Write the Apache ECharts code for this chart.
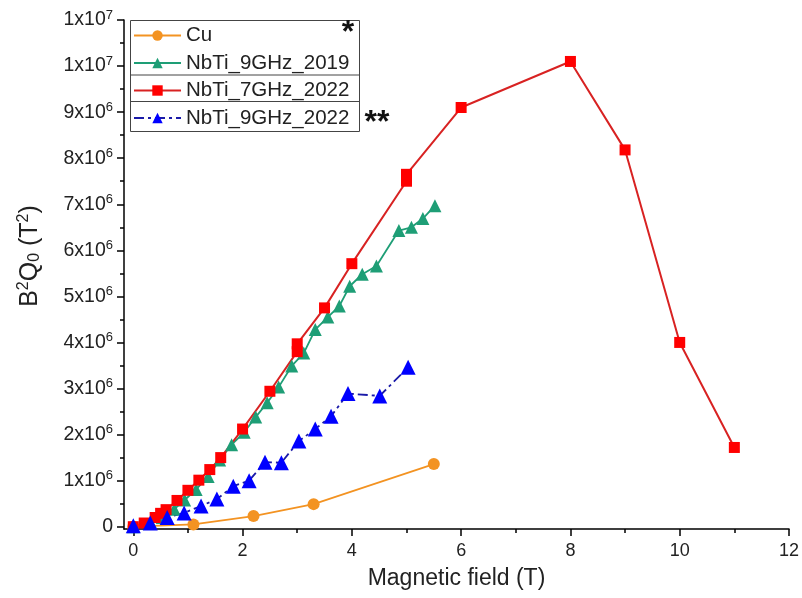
<!DOCTYPE html>
<html>
<head>
<meta charset="utf-8">
<script src="https://cdn.jsdelivr.net/npm/echarts@6/dist/echarts.min.js"></script>
<style>html,body{margin:0;padding:0;background:#fff;}#c{width:802px;height:598px;}</style>
</head>
<body>
<div id="c"></div>
<script>
// ---- data ----
const seriesNames = ['Cu', 'NbTi_9GHz_2019', 'NbTi_7GHz_2022', 'NbTi_9GHz_2022'];
const cuData = [[0, 0], [1.1, 0.05e6], [2.2, 0.23e6], [3.3, 0.49e6], [5.5, 1.36e6]];
const nb9_2019 = [[0, 0], [0.32, 0.08e6], [0.53, 0.2e6], [0.75, 0.38e6], [0.94, 0.58e6], [1.15, 0.81e6], [1.37, 1.09e6],
  [1.58, 1.45e6], [1.8, 1.78e6], [2.03, 2.05e6], [2.24, 2.38e6], [2.45, 2.69e6], [2.66, 3.03e6], [2.9, 3.49e6],
  [3.12, 3.77e6], [3.33, 4.28e6], [3.56, 4.55e6], [3.77, 4.79e6], [3.96, 5.22e6], [4.19, 5.48e6], [4.45, 5.66e6],
  [4.86, 6.43e6], [5.09, 6.5e6], [5.3, 6.69e6], [5.52, 6.97e6]];
const nb7_2022 = [[0, 0], [0.2, 0.08e6], [0.4, 0.2e6], [0.5, 0.29e6], [0.6, 0.37e6], [0.8, 0.57e6], [1.0, 0.79e6],
  [1.2, 1.01e6], [1.4, 1.24e6], [1.6, 1.5e6], [2.0, 2.12e6], [2.5, 2.94e6], [3.0, 3.8e6], [3.0, 3.97e6],
  [3.5, 4.75e6], [4.0, 5.71e6], [5.0, 7.5e6], [5.0, 7.65e6], [6.0, 9.1e6], [8.0, 10.1e6], [9.0, 8.18e6],
  [10.0, 4.0e6], [11.0, 1.72e6]];
const nb9_2022 = [[0, 0.02e6], [0.31, 0.08e6], [0.62, 0.2e6], [0.93, 0.3e6], [1.24, 0.45e6], [1.53, 0.6e6],
  [1.83, 0.88e6], [2.12, 1.0e6], [2.41, 1.4e6], [2.71, 1.39e6], [3.03, 1.86e6], [3.33, 2.12e6], [3.62, 2.4e6],
  [3.93, 2.89e6], [4.51, 2.84e6], [5.03, 3.46e6]];

const xTickValues = [0, 2, 4, 6, 8, 10, 12];
const xTickLabels = ['0', '2', '4', '6', '8', '10', '12'];
const xMinorTicks = [1, 3, 5, 7, 9, 11];
const yTickValues = [0, 1e6, 2e6, 3e6, 4e6, 5e6, 6e6, 7e6, 8e6, 9e6, 1e7, 1.1e7];
const yTickLabels = ['0', '1x10^6', '2x10^6', '3x10^6', '4x10^6', '5x10^6', '6x10^6', '7x10^6', '8x10^6', '9x10^6', '1x10^7', '1x10^7'];
const yMinorTicks = [0.5e6, 1.5e6, 2.5e6, 3.5e6, 4.5e6, 5.5e6, 6.5e6, 7.5e6, 8.5e6, 9.5e6, 10.5e6];

// ---- chart ----
const FONT = '"Liberation Sans", Arial, sans-serif';
const chart = echarts.init(document.getElementById('c'), null, {renderer: 'canvas'});

function lookup(values, labels, v) {
  for (let i = 0; i < values.length; i++) {
    if (Math.abs(values[i] - v) < 1e-6 * Math.max(1, Math.abs(v))) return labels[i];
  }
  return '';
}
function richLabel(s) {
  const p = s.split('^');
  if (p.length < 2) return '{b|' + p[0] + '}';
  return '{b|' + p[0] + '}{sup|' + p[1] + '}';
}

const XMIN = -0.17, XMAX = 12, YMIN = -0.05e6, YMAX = 1.1e7;
const axisLineStyle = {color: '#000', width: 1.5};

const option = {
  animation: false,
  backgroundColor: '#fff',
  grid: {left: 124, right: 12, top: 20, bottom: 69, containLabel: false},
  xAxis: [
    {
      type: 'value', min: XMIN, max: XMAX, position: 'bottom',
      axisLine: {show: true, onZero: false, lineStyle: axisLineStyle},
      axisTick: {show: true, customValues: xTickValues, length: 7, lineStyle: {color: '#000', width: 1.5}},
      axisLabel: {show: true, customValues: xTickValues, margin: 13, color: '#222', fontSize: 18, fontFamily: FONT,
        formatter: v => lookup(xTickValues, xTickLabels, v)},
      splitLine: {show: false},
      name: 'Magnetic field (T)', nameLocation: 'middle', nameGap: 38,
      nameTextStyle: {fontSize: 23, color: '#222', fontFamily: FONT}
    },
    {
      type: 'value', min: XMIN, max: XMAX, position: 'bottom', offset: 0,
      axisLine: {show: false, onZero: false},
      axisTick: {show: true, customValues: xMinorTicks, length: 4, lineStyle: {color: '#000', width: 1.5}},
      axisLabel: {show: false}, splitLine: {show: false}
    }
  ],
  yAxis: [
    {
      type: 'value', min: YMIN, max: YMAX, position: 'left',
      axisLine: {show: true, onZero: false, lineStyle: axisLineStyle},
      axisTick: {show: true, customValues: yTickValues, length: 7, lineStyle: {color: '#000', width: 1.5}},
      axisLabel: {show: true, customValues: yTickValues, margin: 11, color: '#222', fontFamily: FONT,
        formatter: v => richLabel(lookup(yTickValues, yTickLabels, v)),
        rich: {
          b: {fontSize: 19.5, color: '#222', fontFamily: FONT},
          sup: {fontSize: 13, color: '#222', fontFamily: FONT, padding: [0, 0, 10, 0]}
        }},
      splitLine: {show: false}
    },
    {
      type: 'value', min: YMIN, max: YMAX, position: 'left', offset: 0,
      axisLine: {show: false, onZero: false},
      axisTick: {show: true, customValues: yMinorTicks, length: 4, lineStyle: {color: '#000', width: 1.5}},
      axisLabel: {show: false}, splitLine: {show: false}
    }
  ],
  legend: {
    show: true, orient: 'vertical', left: 133, top: 25, padding: 0,
    itemWidth: 47, itemHeight: 13, itemGap: 6.5,
    data: seriesNames,
    textStyle: {fontSize: 20.5, color: '#222', fontFamily: FONT, lineHeight: 20.5}
  },
  graphic: [
    {type: 'rect', shape: {x: 130.5, y: 20.5, width: 229, height: 111}, style: {fill: 'none', stroke: '#444', lineWidth: 1}, silent: true},
    {type: 'line', shape: {x1: 130.5, y1: 75, x2: 359.5, y2: 75}, style: {stroke: '#444', lineWidth: 1}, silent: true},
    {type: 'line', shape: {x1: 130.5, y1: 101.5, x2: 359.5, y2: 101.5}, style: {stroke: '#444', lineWidth: 1}, silent: true},
    {type: 'text', x: 348, y: 33, style: {text: '*', fontSize: 32, fontWeight: 'bold', fill: '#111', fontFamily: FONT, align: 'center', verticalAlign: 'middle'}},
    {type: 'text', x: 377, y: 123, style: {text: '**', fontSize: 32, fontWeight: 'bold', fill: '#111', fontFamily: FONT, align: 'center', verticalAlign: 'middle'}},
    {type: 'text', x: 30, y: 256, rotation: Math.PI / 2,
      style: {text: '{b|B}{sup|2}{b|Q}{sub|0}{b| (T}{sup|2}{b|)}', align: 'center', verticalAlign: 'middle',
        rich: {
          b: {fontSize: 25, fill: '#222', fontFamily: FONT},
          sup: {fontSize: 16, fill: '#222', fontFamily: FONT, padding: [0, 0, 12, 0]},
          sub: {fontSize: 16, fill: '#222', fontFamily: FONT, padding: [10, 0, 0, 0]}
        }}}
  ],
  series: [
    {name: seriesNames[0], type: 'line', data: cuData, xAxisIndex: 0, yAxisIndex: 0,
      symbol: 'circle', symbolSize: 12, color: '#F39322',
      itemStyle: {color: '#F39322'}, lineStyle: {color: '#F39322', width: 1.8}},
    {name: seriesNames[1], type: 'line', data: nb9_2019, xAxisIndex: 0, yAxisIndex: 0,
      symbol: 'triangle', symbolSize: 13, color: '#1E9E76',
      itemStyle: {color: '#1E9E76'}, lineStyle: {color: '#1E9E76', width: 1.8}},
    {name: seriesNames[2], type: 'line', data: nb7_2022, xAxisIndex: 0, yAxisIndex: 0,
      symbol: 'rect', symbolSize: 11, color: '#FF0000',
      itemStyle: {color: '#FF0000'}, lineStyle: {color: '#D82222', width: 2}},
    {name: seriesNames[3], type: 'line', data: nb9_2022, xAxisIndex: 0, yAxisIndex: 0,
      symbol: 'triangle', symbolSize: 15, color: '#0000FF',
      itemStyle: {color: '#0000FF'}, lineStyle: {color: '#1A1AA8', width: 1.8, type: [10, 4, 3, 4]}}
  ]
};
chart.setOption(option);
</script>
</body>
</html>
